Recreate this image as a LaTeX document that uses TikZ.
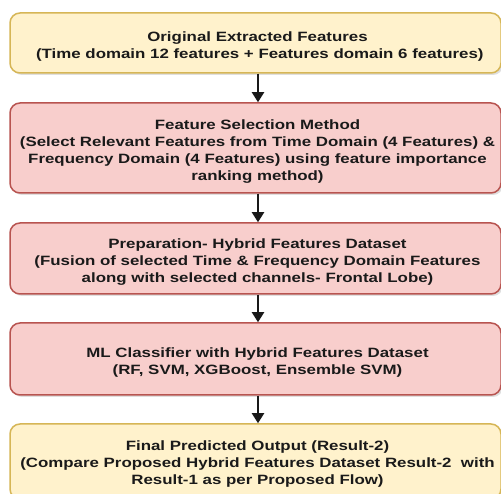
\documentclass[tikz,border=0pt]{standalone}
\usepackage{fontspec}
\setmainfont{Liberation Sans}
\newfontfamily\widesans[FakeStretch=1.25]{Liberation Sans}
\usetikzlibrary{arrows.meta,shadows}
\definecolor{yelfill}{HTML}{FFF2CC}
\definecolor{yeldraw}{HTML}{D6B656}
\definecolor{redfill}{HTML}{F8CECC}
\definecolor{reddraw}{HTML}{B85450}
\definecolor{txt}{HTML}{1A1A1A}
\tikzset{
  stage/.style={rounded corners=10pt, line width=1.5pt, minimum width=491pt,
    inner sep=0pt,
    drop shadow={opacity=0.25, shadow xshift=2pt, shadow yshift=-2pt}},
  yelbox/.style={stage, draw=yeldraw, fill=yelfill},
  redbox/.style={stage, draw=reddraw, fill=redfill},
  stagetext/.style={align=center, inner sep=0pt, text=txt,
    font=\widesans\fontsize{13.5}{17}\selectfont\bfseries},
  flow/.style={-{Triangle[length=10pt,width=12pt]}, line width=2pt, black!90}
}
\begin{document}
\begin{tikzpicture}[x=1pt,y=-1pt]
\useasboundingbox (0,0) rectangle (501,494);
\clip (0,0) rectangle (501,494);
\fill[white] (0,0) rectangle (501,494);
% stage boxes
\node[yelbox, minimum height=60pt] (orig) at (255.5,43) {};
\node[redbox, minimum height=90pt] (sel) at (255.5,148) {};
\node[redbox, minimum height=71pt] (prep) at (255.5,258.5) {};
\node[redbox, minimum height=72pt] (ml) at (255.5,359) {};
\node[yelbox, minimum height=75pt] (out) at (255.5,461.5) {};
% stage captions
\node[stagetext] (origt) at ([xshift=2pt,yshift=-3.5pt]orig.center)
  {Original Extracted Features\\\ (Time domain 12 features + Features domain 6 features)};
\node[stagetext] (selt) at ([xshift=2pt,yshift=-3.5pt]sel.center)
  {Feature Selection Method\\(Select Relevant Features from Time Domain (4 Features) \&\\Frequency Domain (4 Features) using feature importance\\ranking method)};
\node[stagetext] (prept) at ([xshift=2pt,yshift=-3.5pt]prep.center)
  {Preparation- Hybrid Features Dataset\\(Fusion of selected Time \& Frequency Domain Features\\along with selected channels- Frontal Lobe)};
\node[stagetext] (mlt) at ([xshift=2pt,yshift=-3.5pt]ml.center)
  {ML Classifier with Hybrid Features Dataset\\(RF, SVM, XGBoost, Ensemble SVM)};
\node[stagetext] (outt) at ([xshift=2pt,yshift=-3pt]out.center)
  {Final Predicted Output (Result-2)\\(Compare Proposed Hybrid Features Dataset Result-2\ \ with\\Result-1 as per Proposed Flow)};
% connectors
\draw[flow] ([xshift=2.5pt]orig.south) -- ([xshift=2.5pt]sel.north);
\draw[flow] ([xshift=2.5pt]sel.south) -- ([xshift=2.5pt]prep.north);
\draw[flow] ([xshift=2.5pt]prep.south) -- ([xshift=2.5pt]ml.north);
\draw[flow] ([xshift=2.5pt]ml.south) -- ([xshift=2.5pt]out.north);
\end{tikzpicture}
\end{document}
